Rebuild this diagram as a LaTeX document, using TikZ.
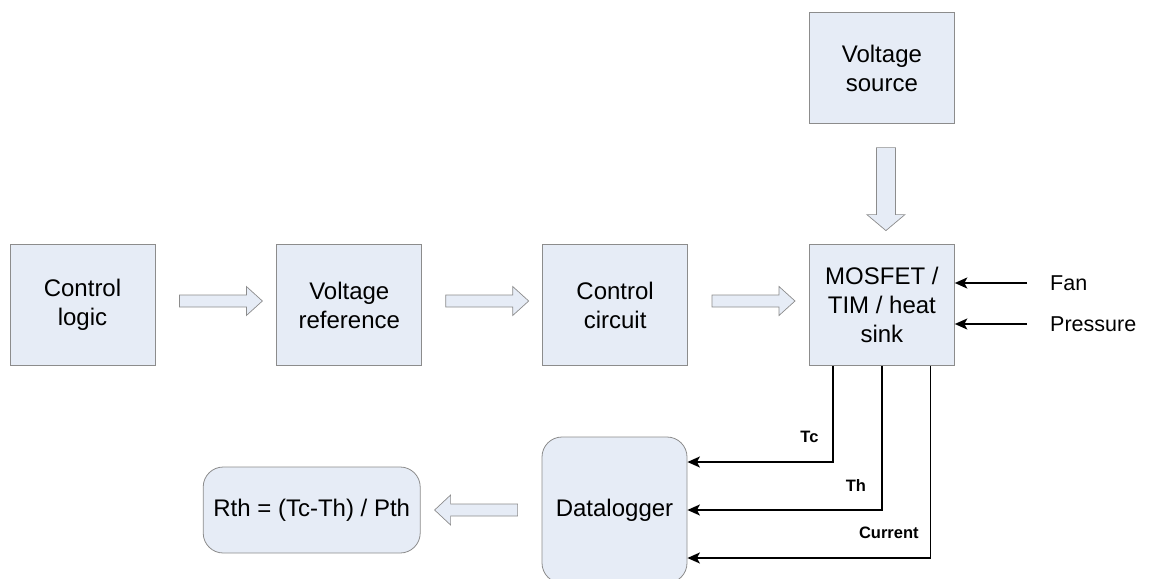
\documentclass[tikz,border=0pt]{standalone}
\usepackage{fontspec}
\setmainfont{Liberation Sans}
\usetikzlibrary{positioning,calc,arrows.meta}
\definecolor{boxfill}{HTML}{E6ECF6}
\definecolor{boxline}{HTML}{8C8C8C}
\tikzset{
  pics/barrow/.style 2 args={code={
    \draw[fill=boxfill,draw=boxline,line width=0.7pt,line join=miter]
      (-41.5,-#1) -- (25.5,-#1) -- (25.5,-#2) -- (41.5,0) -- (25.5,#2) -- (25.5,#1) -- (-41.5,#1) -- cycle;
  }}
}
\begin{document}
\begin{tikzpicture}[x=1pt,y=-1pt,>={Stealth[length=12.5pt,width=11pt,inset=3pt]},
  block/.style={draw=boxline,fill=boxfill,line width=0.8pt,align=center,minimum width=145pt,minimum height=121pt,font=\fontsize{24}{29}\selectfont},
  rblock/.style={block,rounded corners=20pt},
  sig/.style={->,line width=1.7pt},
  lbl/.style={inner sep=0pt,anchor=east,font=\fontsize{16.5}{18}\selectfont\bfseries},
  side/.style={inner sep=0pt,anchor=west,font=\fontsize{21.5}{24}\selectfont}]
\useasboundingbox (0,0) rectangle (1153,578);
\node[block] (cl) at (82.5,305) {Control\\logic};
\node[block,right=121pt of cl] (vr) {Voltage\\reference};
\node[block,right=120pt of vr] (cc) {Control\\circuit};
\node[block,right=121pt of cc] (mos) {MOSFET /\\TIM / heat\\sink};
\node[block,minimum height=111pt,above=120pt of mos] (vs) {Voltage\\source};
\node[rblock,minimum height=146pt] (dl) at (614.5,510) {Datalogger};
\node[rblock,minimum width=217pt,minimum height=86pt,left=121pt of dl] (rth) {Rth = (Tc-Th) / Pth};
\node[side] (fan) at (1050,283) {Fan};
\node[side] (pr) at (1050,324) {Pressure};
\pic at ($(cl.east)!0.5!(vr.west)+(5,-4)$) {barrow={6}{14.5}};
\pic at ($(vr.east)!0.5!(cc.west)+(5,-4)$) {barrow={6}{14.5}};
\pic at ($(cc.east)!0.5!(mos.west)+(5,-4)$) {barrow={6}{14.5}};
\pic[rotate=-90] at ($(vs.south)!0.5!(mos.north)+(4,5)$) {barrow={9.5}{19}};
\pic[rotate=180] at ($(dl.west)!0.5!(rth.east)+(-5,0)$) {barrow={6}{15}};
\draw[sig,shorten <=23pt] (fan.west) -- (fan -| mos.east);
\draw[sig,shorten <=23pt] (pr.west) -- (pr -| mos.east);
\draw[sig] ($(mos.south west)!1/6!(mos.south east)$) |- ([yshift=48pt]dl.east)
  node[lbl,pos=0.5,xshift=-14pt,yshift=25pt] {Tc};
\draw[sig] (mos.south) |- (dl.east)
  node[lbl,pos=0.5,xshift=-15pt,yshift=24pt] {Th};
\draw[sig] ($(mos.south west)!5/6!(mos.south east)$) |- ([yshift=-48pt]dl.east)
  node[lbl,pos=0.5,xshift=-11pt,yshift=25pt] {Current};
\end{tikzpicture}
\end{document}
